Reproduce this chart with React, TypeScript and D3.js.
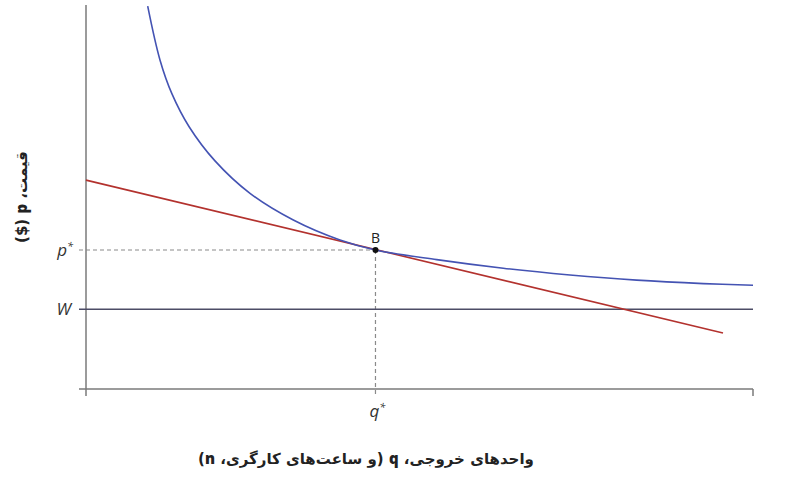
import React, { useRef, useEffect } from 'react';
import * as d3 from 'd3';

// Isoprofit curve (q, p)
const curveQ = [9.25, 11.09, 12.89, 15.46, 19.34, 24.59, 31.08, 38.08, 43.4, 52.58, 62.56, 72.56, 82.56, 92.55, 100];
const curveP = [99.7, 85.7, 76.85, 68.3, 59.4, 50.95, 44.0, 38.8, 36.2, 33.7, 31.45, 29.7, 28.35, 27.45, 27.0];

// Demand line end points (q, p)
const demandQ = [0, 95.5];
const demandP = [54.4, 14.6];

const wage = 20.8;
const pointB = { q: 43.4, p: 36.2, label: 'B' };

const xLabel = 'واحدهای خروجی، ';
const xLabelMid = ' (و ساعت‌های کارگری، ';
const yLabel = 'قیمت، ';

const W = 810;
const H = 500;

const App: React.FC = () => {
  const svgRef = useRef<SVGSVGElement>(null);

  useEffect(() => {
    if (!svgRef.current) return;
    const svg = d3.select(svgRef.current);
    svg.selectAll('*').remove();

    const x = d3.scaleLinear().domain([0, 100]).range([86, 753]);
    const y = d3.scaleLinear().domain([0, 100]).range([389, 5]);

    const axisColor = '#7a7a7a';
    const dashColor = '#8a8a8a';
    const latin = "'Open Sans', 'Liberation Sans', sans-serif";
    const arabic = "'DejaVu Sans', sans-serif";

    // axes
    svg.append('line')
      .attr('x1', x(0)).attr('x2', x(0))
      .attr('y1', y(100)).attr('y2', y(0) + 7)
      .attr('stroke', axisColor).attr('stroke-width', 1.5);
    svg.append('line')
      .attr('x1', x(0) - 7).attr('x2', x(100))
      .attr('y1', y(0)).attr('y2', y(0))
      .attr('stroke', axisColor).attr('stroke-width', 1.5);
    svg.append('line')
      .attr('x1', x(100)).attr('x2', x(100))
      .attr('y1', y(0)).attr('y2', y(0) + 7)
      .attr('stroke', axisColor).attr('stroke-width', 1.5);

    // dashed guides to B
    svg.append('line')
      .attr('x1', x(0) - 7).attr('x2', x(pointB.q))
      .attr('y1', y(pointB.p)).attr('y2', y(pointB.p))
      .attr('stroke', dashColor).attr('stroke-width', 1.2)
      .attr('stroke-dasharray', '4,3');
    svg.append('line')
      .attr('x1', x(pointB.q)).attr('x2', x(pointB.q))
      .attr('y1', y(pointB.p)).attr('y2', y(0) + 7)
      .attr('stroke', dashColor).attr('stroke-width', 1.2)
      .attr('stroke-dasharray', '4,3');

    // wage line
    svg.append('line')
      .attr('x1', x(0) - 7).attr('x2', x(100))
      .attr('y1', y(wage)).attr('y2', y(wage))
      .attr('stroke', '#4c4c66').attr('stroke-width', 1.5);

    // demand line
    const pts = demandQ.map((q, i) => [q, demandP[i]] as [number, number]);
    const line = d3.line<[number, number]>().x(d => x(d[0])).y(d => y(d[1]));
    svg.append('path')
      .datum(pts)
      .attr('d', line)
      .attr('fill', 'none')
      .attr('stroke', '#b3322e')
      .attr('stroke-width', 1.6);

    // isoprofit curve
    const cpts = curveQ.map((q, i) => [q, curveP[i]] as [number, number]);
    svg.append('path')
      .datum(cpts)
      .attr('d', line.curve(d3.curveCatmullRom.alpha(0.5)))
      .attr('fill', 'none')
      .attr('stroke', '#4453b3')
      .attr('stroke-width', 1.6);

    // point B
    svg.append('circle')
      .attr('cx', x(pointB.q)).attr('cy', y(pointB.p))
      .attr('r', 3).attr('fill', '#111');
    svg.append('text')
      .attr('x', x(pointB.q)).attr('y', y(pointB.p) - 7)
      .attr('text-anchor', 'middle')
      .attr('font-family', latin).attr('font-size', 14)
      .attr('fill', '#222')
      .text(pointB.label);

    // tick labels
    const tickLabel = (tx: number, ty: number, main: string, star: boolean, anchor: string) => {
      const t = svg.append('text')
        .attr('x', tx).attr('y', ty)
        .attr('text-anchor', anchor)
        .attr('font-family', latin).attr('font-style', 'italic')
        .attr('font-size', 17).attr('fill', '#333');
      t.append('tspan').text(main);
      if (star) t.append('tspan').attr('dy', -6).attr('font-size', 11).text('*');
    };
    tickLabel(x(0) - 13, y(pointB.p) + 6, 'p', true, 'end');
    tickLabel(x(0) - 15, y(wage) + 6, 'W', false, 'end');
    tickLabel(x(pointB.q) + 2, y(0) + 28, 'q', true, 'middle');

    // x-axis label
    const xl = svg.append('text')
      .attr('x', 366).attr('y', 464)
      .attr('text-anchor', 'middle')
      .attr('direction', 'rtl')
      .attr('font-family', arabic)
      .attr('font-weight', 'bold')
      .attr('font-size', 15)
      .attr('fill', '#222');
    xl.append('tspan').text(xLabel);
    xl.append('tspan').attr('font-family', latin).attr('font-weight', 800).text('q');
    xl.append('tspan').text(xLabelMid);
    xl.append('tspan').attr('font-family', latin).attr('font-weight', 800).text('n');
    xl.append('tspan').text(')');

    // y-axis label
    const yl = svg.append('text')
      .attr('transform', `translate(27,197) rotate(-90)`)
      .attr('text-anchor', 'middle')
      .attr('direction', 'rtl')
      .attr('font-family', arabic)
      .attr('font-weight', 'bold')
      .attr('font-size', 15)
      .attr('fill', '#222');
    yl.append('tspan').text(yLabel);
    yl.append('tspan').attr('font-family', latin).attr('font-weight', 800).text('p');
    yl.append('tspan').text(' ($)');
  }, []);

  return (
    <svg
      ref={svgRef}
      width={W}
      height={H}
      style={{ position: 'absolute', left: 0, top: 0, background: '#fff' }}
    />
  );
};

export default App;
